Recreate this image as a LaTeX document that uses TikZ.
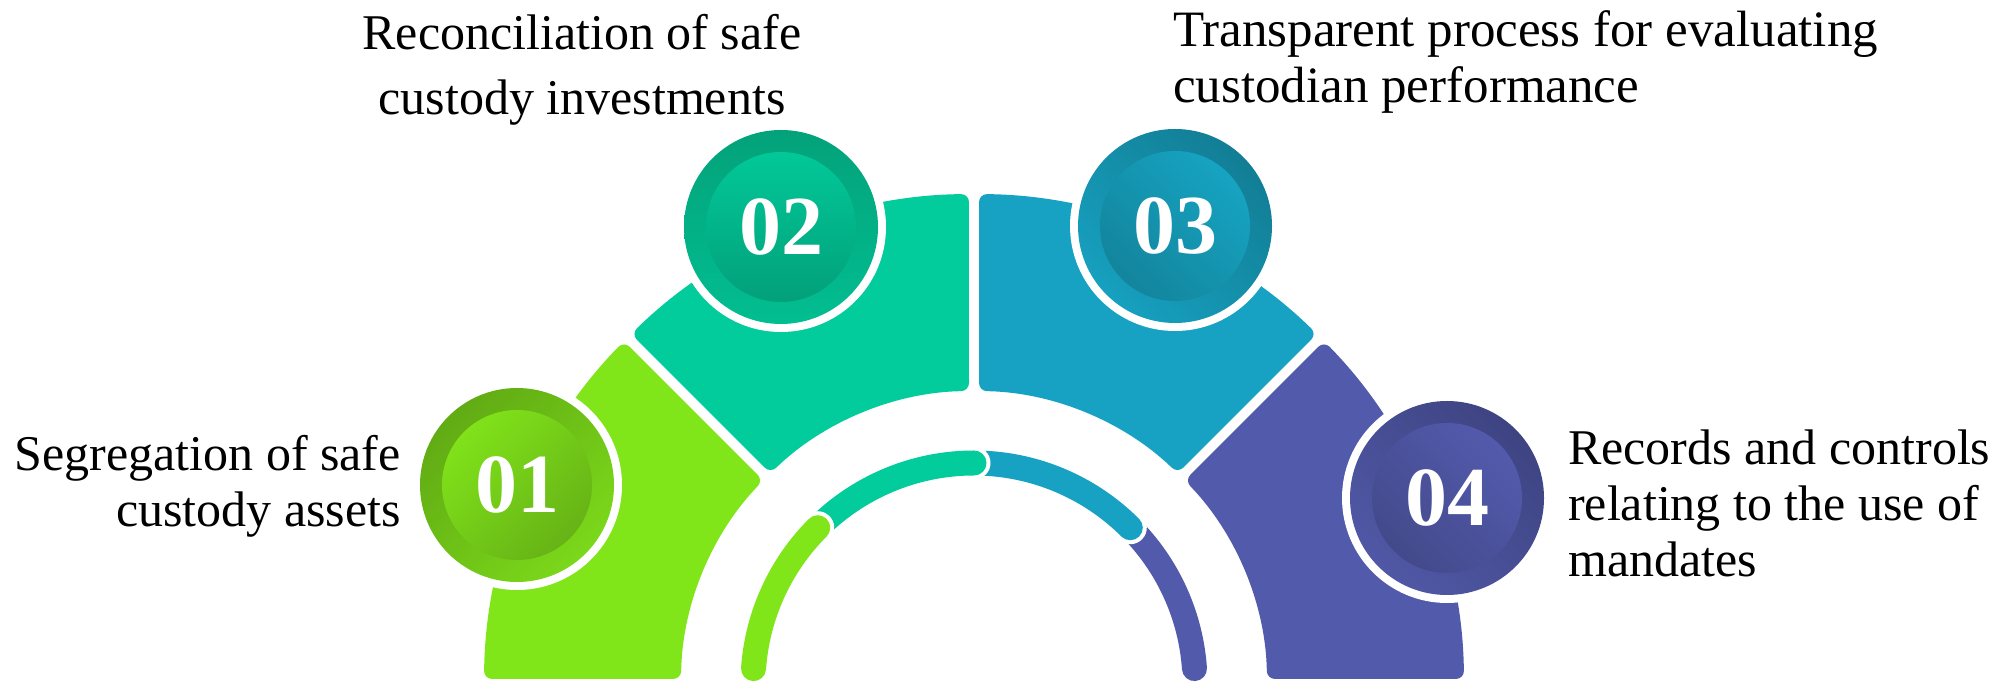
\documentclass[tikz,border=0pt]{standalone}
\usepackage{fontspec}
\setmainfont{Liberation Serif}
\usetikzlibrary{shapes}

\definecolor{sgreen}{HTML}{80E619}
\definecolor{steal}{HTML}{02CC9B}
\definecolor{sblue}{HTML}{17A2C4}
\definecolor{spurple}{HTML}{525AAB}
% badge rings and discs
\definecolor{ring01a}{HTML}{61AB14}
\definecolor{ring01b}{HTML}{7BD81A}
\definecolor{disk01a}{HTML}{80E21A}
\definecolor{disk01b}{HTML}{66B316}
\definecolor{ring02a}{HTML}{03A27A}
\definecolor{ring02b}{HTML}{02BE91}
\definecolor{disk02a}{HTML}{02C898}
\definecolor{disk02b}{HTML}{02A07A}
\definecolor{ring03a}{HTML}{127E95}
\definecolor{ring03b}{HTML}{16A0BF}
\definecolor{disk03a}{HTML}{16A3C2}
\definecolor{disk03b}{HTML}{13859C}
\definecolor{ring04a}{HTML}{3E4482}
\definecolor{ring04b}{HTML}{5058A6}
\definecolor{disk04a}{HTML}{535AAC}
\definecolor{disk04b}{HTML}{434A8B}

\begin{document}
\begin{tikzpicture}[x=1pt,y=1pt]
	\tikzstyle{itemtext} = [inner sep=0, font=\fontsize{50}{56}\selectfont]
	\tikzstyle{badge} = [circle, inner sep=0, minimum size=150pt, text=white, font=\fontsize{84}{84}\selectfont\bfseries]

	\useasboundingbox (0,0) rectangle (2015,684);

	\begin{scope}[shift={(974,0)}]
		% outer band
		\foreach \a/\b/\col in {180/135/sgreen, 135/90/steal, 90/45/sblue, 45/0/spurple} {
			\fill[\col, rounded corners=8pt] ({\a-0.59}:490) arc[start angle=\a-0.59, end angle=\b+0.59, radius=490pt]
				-- ({\b+0.98}:293) arc[start angle=\b+0.98, end angle=\a-0.98, radius=293pt] -- cycle;
		}
		% inner ring
		\foreach \a/\b/\col in {45/4/spurple, 90/45/sblue, 135/90/steal, 176/135/sgreen} {
			\draw[white, line width=33pt, line cap=round] (\a:221) arc[start angle=\a, end angle=\b, radius=221pt];
			\draw[\col, line width=25pt, line cap=round] (\a:221) arc[start angle=\a, end angle=\b, radius=221pt];
		}
	\end{scope}

	\foreach \n/\x/\y/\ang in {01/517/199/45, 02/781/457/0, 03/1175/458/-45, 04/1447/186/-45} {
		\fill[white] (\x,\y) circle[radius=105pt];
		\shade[top color=ring\n a, bottom color=ring\n b, shading angle=\ang] (\x,\y) circle[radius=97pt];
		\node[badge, top color=disk\n a, bottom color=disk\n b, shading angle=\ang] (b\n) at (\x,\y) {\n};
	}

	\node[itemtext, anchor=base east, align=right] (t01) at (401,157) {Segregation of safe\\custody assets};
	\node[itemtext, anchor=base, align=center] (t02) at (582,569) {Reconciliation of safe\\[9pt]custody investments};
	\node[itemtext, anchor=base west, align=left, font=\fontsize{51}{56}\selectfont] (t03) at (1173,581) {Transparent process for evaluating\\custodian performance};
	\node[itemtext, anchor=base west, align=left] (t04) at (1568,107) {Records and controls\\relating to the use of\\mandates};

\end{tikzpicture}
\end{document}
